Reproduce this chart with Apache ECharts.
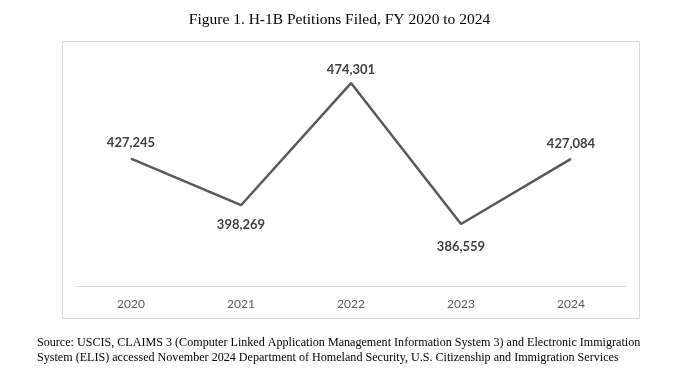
<!DOCTYPE html>
<html>
<head>
<meta charset="utf-8">
<script src="https://cdn.jsdelivr.net/npm/echarts@6/dist/echarts.min.js"></script>
<style>
  html, body { margin: 0; padding: 0; background: #fff; }
  #main { width: 679px; height: 377px; }
</style>
</head>
<body>
<div id="main"></div>
<script>
  // fiscal years and petitions filed
  var years = ['2020', '2021', '2022', '2023', '2024'];
  var petitions = [427245, 398269, 474301, 386559, 427084];

  var titleText = 'Figure 1. H-1B Petitions Filed, FY 2020 to 2024';
  var sourceLines = [
    'Source: USCIS, CLAIMS 3 (Computer Linked Application Management Information System 3) and Electronic Immigration',
    'System (ELIS) accessed November 2024 Department of Homeland Security, U.S. Citizenship and Immigration Services'
  ];

  // where each data label sits (above / below the point)
  var labelLayout = [
    { position: 'top', distance: 9 },
    { position: 'bottom', distance: 13 },
    { position: 'top', distance: 7 },
    { position: 'bottom', distance: 16 },
    { position: 'top', distance: 9 }
  ];

  var chart = echarts.init(document.getElementById('main'));

  var option = {
    backgroundColor: '#fff',
    animation: false,
    title: {
      text: titleText,
      left: 'center',
      top: 7,
      textStyle: {
        fontFamily: 'Liberation Serif',
        fontWeight: 'normal',
        fontSize: 15.5,
        color: '#000'
      }
    },
    grid: { left: 76, right: 53, top: 53, bottom: 91 },
    xAxis: {
      type: 'category',
      data: years,
      boundaryGap: true,
      axisLine: { lineStyle: { color: '#d9d9d9', width: 1 } },
      axisTick: { show: false },
      axisLabel: {
        color: '#595959',
        fontFamily: 'Lato',
        fontSize: 12,
        margin: 12
      }
    },
    yAxis: {
      type: 'value',
      min: 348000,
      max: 493000,
      show: false
    },
    series: [{
      type: 'line',
      data: petitions.map(function (v, i) {
        return { value: v, label: labelLayout[i] };
      }),
      symbol: 'circle',
      symbolSize: 0,
      showSymbol: true,
      itemStyle: { color: '#595959' },
      lineStyle: { color: '#595959', width: 2.5 },
      label: {
        show: true,
        color: '#404040',
        fontFamily: 'Lato',
        fontWeight: 'bold',
        fontSize: 13,
        formatter: function (p) {
          return p.value.toLocaleString('en-US');
        }
      }
    }],
    graphic: [
      {
        type: 'rect',
        shape: { x: 62.5, y: 41.5, width: 577, height: 277 },
        style: { fill: 'none', stroke: '#d9d9d9', lineWidth: 1 },
        silent: true
      },
      {
        type: 'text',
        left: 37,
        top: 335,
        style: {
          text: sourceLines.join('\n'),
          font: '12.1px "Liberation Serif"',
          lineHeight: 15,
          fill: '#000'
        }
      }
    ]
  };

  chart.setOption(option);
</script>
</body>
</html>
